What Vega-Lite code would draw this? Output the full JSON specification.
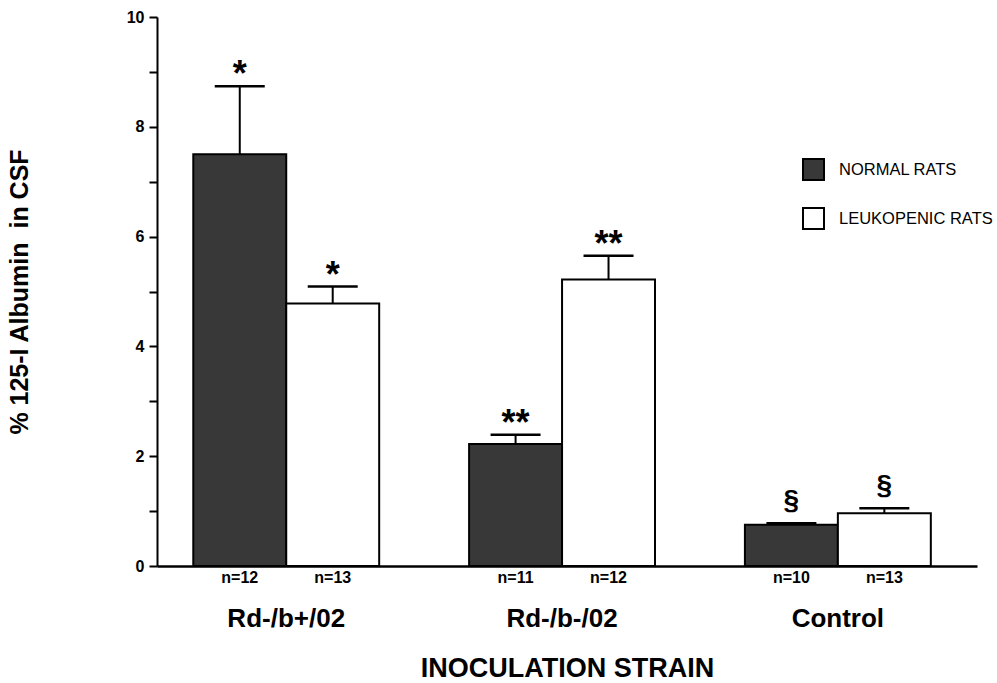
{
  "$schema": "https://vega.github.io/schema/vega-lite/v6.json",
  "width": 820,
  "height": 549,
  "autosize": "none",
  "padding": {"left": 157, "top": 17, "right": 20, "bottom": 117},
  "background": "white",
  "config": {"view": {"stroke": null}, "font": "Liberation Sans"},
  "data": {
    "values": [
      {"strain": "Rd-/b+/02", "group": "NORMAL RATS", "value": 7.5, "upper": 8.74, "n": "n=12", "sig": "*"},
      {"strain": "Rd-/b+/02", "group": "LEUKOPENIC RATS", "value": 4.78, "upper": 5.09, "n": "n=13", "sig": "*"},
      {"strain": "Rd-/b-/02", "group": "NORMAL RATS", "value": 2.22, "upper": 2.39, "n": "n=11", "sig": "**"},
      {"strain": "Rd-/b-/02", "group": "LEUKOPENIC RATS", "value": 5.22, "upper": 5.65, "n": "n=12", "sig": "**"},
      {"strain": "Control", "group": "NORMAL RATS", "value": 0.75, "upper": 0.78, "n": "n=10", "sig": "§"},
      {"strain": "Control", "group": "LEUKOPENIC RATS", "value": 0.96, "upper": 1.05, "n": "n=13", "sig": "§"}
    ]
  },
  "encoding": {
    "x": {
      "field": "strain",
      "type": "nominal",
      "sort": ["Rd-/b+/02", "Rd-/b-/02", "Control"],
      "scale": {"type": "band", "paddingInner": 0.326, "paddingOuter": 0.1495, "align": 0.44},
      "axis": {
        "title": "INOCULATION STRAIN",
        "titleFontSize": 27,
        "titleFontWeight": "bold",
        "titleColor": "black",
        "titlePadding": 24,
        "labelAngle": 0,
        "labelFontSize": 26,
        "labelFontWeight": "bold",
        "labelColor": "black",
        "labelPadding": 39,
        "ticks": false,
        "domainColor": "black",
        "domainWidth": 2.5
      }
    },
    "xOffset": {
      "field": "group",
      "type": "nominal",
      "sort": ["NORMAL RATS", "LEUKOPENIC RATS"],
      "scale": {"paddingInner": 0, "paddingOuter": 0}
    }
  },
  "layer": [
    {
      "mark": {"type": "bar", "stroke": "black", "strokeWidth": 2},
      "encoding": {
        "y": {
          "field": "value",
          "type": "quantitative",
          "scale": {"domain": [0, 10], "nice": false},
          "axis": {
            "title": "% 125-I Albumin\u00a0 in CSF",
            "titleFontSize": 25,
            "titleFontWeight": "bold",
            "titleColor": "black",
            "titlePadding": 94,
            "values": [0, 1, 2, 3, 4, 5, 6, 7, 8, 9, 10],
            "labelExpr": "datum.value % 2 == 0 ? datum.label : ''",
            "labelFontSize": 16,
            "labelFontWeight": "bold",
            "labelColor": "black",
            "labelPadding": 5,
            "tickSize": 8,
            "tickWidth": 2,
            "tickColor": "black",
            "domainColor": "black",
            "domainWidth": 2,
            "grid": false
          }
        },
        "color": {
          "field": "group",
          "type": "nominal",
          "sort": ["NORMAL RATS", "LEUKOPENIC RATS"],
          "scale": {"domain": ["NORMAL RATS", "LEUKOPENIC RATS"], "range": ["#383838", "#ffffff"]},
          "legend": {
            "orient": "none",
            "legendX": 645,
            "legendY": 141,
            "title": null,
            "padding": 0,
            "symbolType": "square",
            "symbolSize": 441,
            "symbolStrokeColor": "black",
            "symbolStrokeWidth": 2,
            "symbolOpacity": 1,
            "labelFontSize": 16.5,
            "labelColor": "black",
            "labelOffset": 14,
            "rowPadding": 20
          }
        }
      }
    },
    {
      "mark": {"type": "rule", "strokeWidth": 2, "color": "black"},
      "encoding": {
        "y": {"field": "value", "type": "quantitative"},
        "y2": {"field": "upper"}
      }
    },
    {
      "mark": {"type": "tick", "size": 50, "thickness": 2.5, "color": "black", "opacity": 1},
      "encoding": {
        "y": {"field": "upper", "type": "quantitative"}
      }
    },
    {
      "transform": [{"filter": "datum.sig != '§'"}],
      "mark": {"type": "text", "fontSize": 36, "fontWeight": "bold", "baseline": "alphabetic", "dy": 0, "color": "black"},
      "encoding": {
        "y": {"field": "upper", "type": "quantitative"},
        "text": {"field": "sig"}
      }
    },
    {
      "transform": [{"filter": "datum.sig == '§'"}],
      "mark": {"type": "text", "fontSize": 28, "fontWeight": "bold", "baseline": "alphabetic", "dy": -14, "color": "black"},
      "encoding": {
        "y": {"field": "upper", "type": "quantitative"},
        "text": {"field": "sig"}
      }
    },
    {
      "mark": {"type": "text", "fontSize": 16, "fontWeight": "bold", "baseline": "middle", "dy": 12, "color": "black"},
      "encoding": {
        "y": {"datum": 0, "type": "quantitative"},
        "text": {"field": "n"}
      }
    }
  ]
}
